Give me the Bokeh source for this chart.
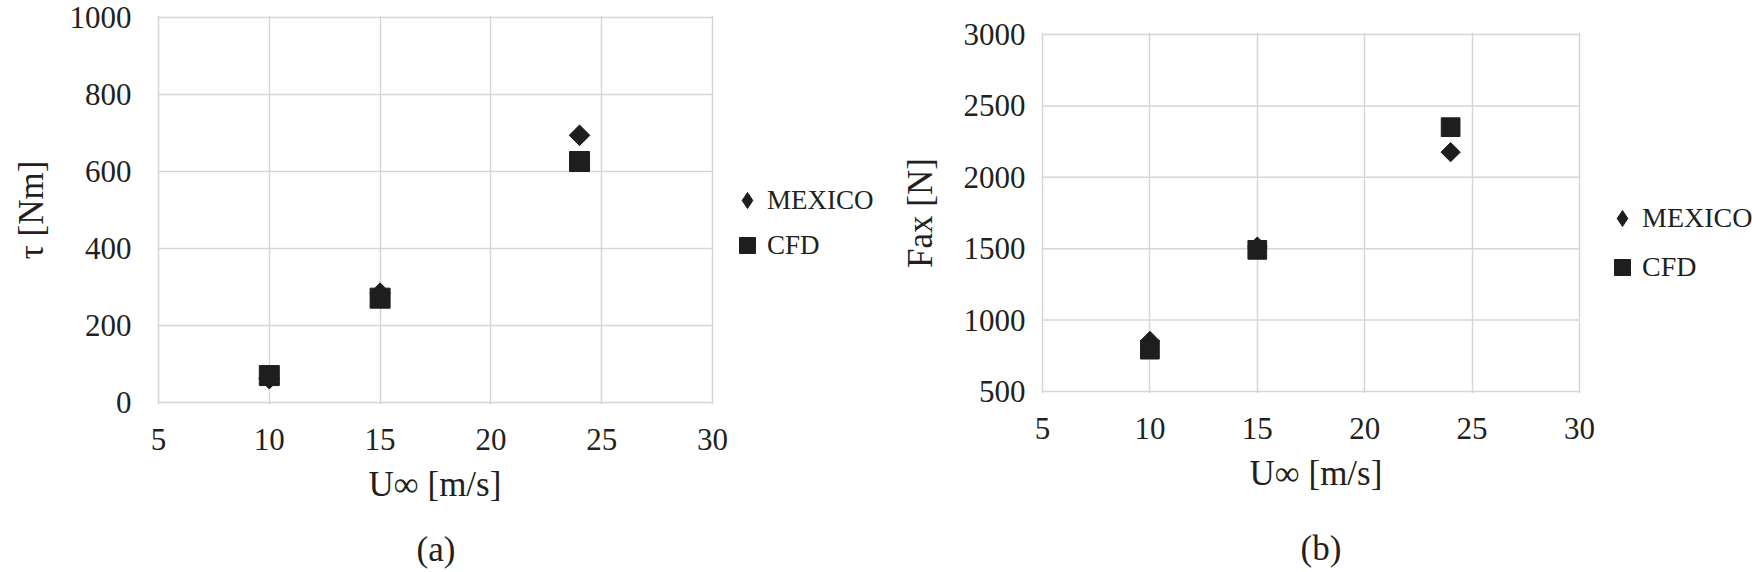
import numpy as np
from bokeh.plotting import figure
from bokeh.layouts import row
from bokeh.models import Legend, LegendItem, FixedTicker, Range1d, Title, ColumnDataSource
from bokeh.embed import file_html
from bokeh.resources import INLINE

# ---- data ----
speed = [10, 15, 24]
torque_mexico = [62, 284, 694]
torque_cfd = [70, 271, 626]
fax_mexico = [854, 1515, 2176]
fax_cfd = [793, 1492, 2351]

x_ticks = [5, 10, 15, 20, 25, 30]
torque_ticks = [0, 200, 400, 600, 800, 1000]
fax_ticks = [500, 1000, 1500, 2000, 2500, 3000]

series_names = ["MEXICO", "CFD"]
x_label = "U\u221e [m/s]"
y_label_a = "\u03c4 [Nm]"
y_label_b = "Fax [N]"
captions = ["(a)", "(b)"]

FONT = "Liberation Serif"
TXT = "#231f20"
MARK = "#1e1e1e"
GRID = "#d6d6d6"
PAD = 2  # px of white around the grid box so its edges are not clipped


def make_panel(y_mex, y_cfd, yticks, ylabel, caption, box_w, box_h, extra_w,
               b_left, b_top, msize, ytick_standoff, ylab_standoff,
               xlab_offset, xlab_standoff, cap_offset, cap_standoff,
               leg_x, leg_y, leg_standoff, legend_font, leg_spacing, total_h):
    kx = box_w / (x_ticks[-1] - x_ticks[0])
    ky = box_h / (yticks[-1] - yticks[0])
    fw = box_w + PAD + extra_w
    fh = box_h + 2 * PAD
    x0 = x_ticks[0] - PAD / kx
    y0 = yticks[0] - PAD / ky
    p = figure(frame_width=fw, frame_height=fh, output_backend="svg", toolbar_location=None,
               x_range=Range1d(x0, x0 + fw / kx), y_range=Range1d(y0, y0 + fh / ky),
               min_border_left=b_left, min_border_top=b_top, min_border_right=0,
               min_border_bottom=total_h - b_top - fh)
    p.frame_align = False
    p.background_fill_color = "white"
    p.border_fill_color = "white"
    p.outline_line_color = None

    # grid box: vertical lines from the x grid, horizontal lines limited to the x span
    p.xgrid.ticker = FixedTicker(ticks=x_ticks)
    p.xgrid.grid_line_color = GRID
    p.xgrid.grid_line_width = 1.5
    p.ygrid.visible = False
    p.segment(x0=[x_ticks[0]] * len(yticks), x1=[x_ticks[-1]] * len(yticks),
              y0=yticks, y1=yticks, line_color=GRID, line_width=1.5)

    src = ColumnDataSource(dict(x=speed, mex=y_mex, cfd=y_cfd))
    # diamond marker used for the legend key (hidden under the rotated squares)
    r_leg = p.scatter("x", "mex", source=src, marker="diamond", size=msize * 0.72, color=MARK)
    p.scatter("x", "mex", source=src, marker="square", angle=np.pi / 4,
              size=msize * 0.73, color=MARK)
    r_cfd = p.scatter("x", "cfd", source=src, marker="square", size=msize, color=MARK)

    p.xaxis.ticker = FixedTicker(ticks=x_ticks)
    p.yaxis.ticker = FixedTicker(ticks=yticks)
    for ax in (p.xaxis[0], p.yaxis[0]):
        ax.axis_line_color = None
        ax.major_tick_line_color = None
        ax.minor_tick_line_color = None
        ax.major_label_text_font = FONT
        ax.major_label_text_font_size = "31px"
        ax.major_label_text_color = TXT
        ax.axis_label_text_font = FONT
        ax.axis_label_text_font_size = "35px"
        ax.axis_label_text_font_style = "normal"
        ax.axis_label_text_color = TXT
    p.yaxis.axis_label = ylabel
    p.yaxis.major_label_standoff = ytick_standoff
    p.yaxis.axis_label_standoff = ylab_standoff
    p.xaxis.major_label_standoff = 18

    t1 = Title(text=x_label, align="left", offset=xlab_offset, text_font=FONT,
               text_font_size="35px", text_font_style="normal", text_color=TXT,
               standoff=xlab_standoff)
    p.add_layout(t1, "below")
    t2 = Title(text=caption, align="left", offset=cap_offset, text_font=FONT,
               text_font_size="35px", text_font_style="normal", text_color=TXT,
               standoff=cap_standoff)
    p.add_layout(t2, "below")

    legend = Legend(items=[LegendItem(label=series_names[0], renderers=[r_leg]),
                           LegendItem(label=series_names[1], renderers=[r_cfd])],
                    location=(leg_x, leg_y), orientation="vertical",
                    glyph_width=40, glyph_height=40, label_standoff=leg_standoff,
                    spacing=leg_spacing, padding=0, margin=0, border_line_color=None,
                    background_fill_alpha=0,
                    label_text_font=FONT, label_text_font_size=legend_font,
                    label_text_color=TXT)
    p.add_layout(legend, "center")
    return p


pa = make_panel(torque_mexico, torque_cfd, torque_ticks, y_label_a, captions[0],
                box_w=554, box_h=385, extra_w=168, b_left=156, b_top=15, msize=20,
                ytick_standoff=19, ylab_standoff=16,
                xlab_offset=212, xlab_standoff=21, cap_offset=260, cap_standoff=26,
                leg_x=571, leg_y=139, leg_standoff=-10, legend_font="27px",
                leg_spacing=5, total_h=572)
pb = make_panel(fax_mexico, fax_cfd, fax_ticks, y_label_b, captions[1],
                box_w=537, box_h=357, extra_w=173, b_left=160, b_top=32, msize=18.7,
                ytick_standoff=9, ylab_standoff=21,
                xlab_offset=209, xlab_standoff=20, cap_offset=260, cap_standoff=48,
                leg_x=562, leg_y=106, leg_standoff=-13, legend_font="28px",
                leg_spacing=9, total_h=572)

layout = row(pa, pb)
open("out.html", "w").write(file_html(layout, INLINE))
